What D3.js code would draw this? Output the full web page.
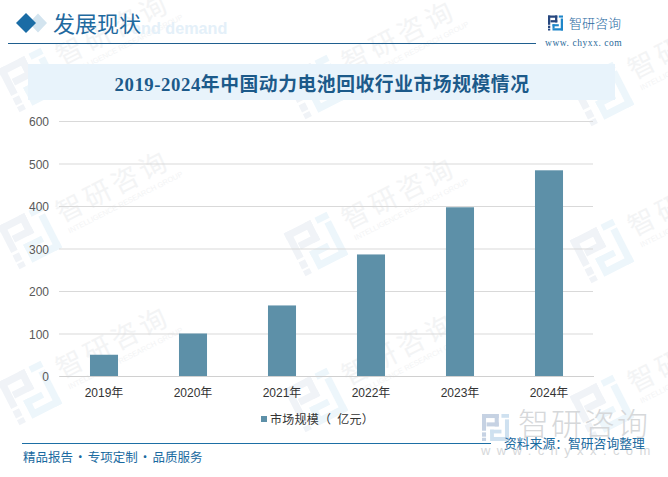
<!DOCTYPE html>
<html><head><meta charset="utf-8">
<script src="https://cdn.jsdelivr.net/npm/d3@7/dist/d3.min.js"></script>
<style>html,body{margin:0;padding:0;background:#fff}svg{display:block;text-spacing-trim:space-all}</style>
</head><body><svg id="c" width="668" height="477"></svg>
<script>
const categories = ["2019年","2020年","2021年","2022年","2023年","2024年"];
const marketSize = [50,100,166,286,397,484];
const yTicks = [0,100,200,300,400,500,600];
const seriesName = "市场规模（亿元）";
const chartTitle = "2019-2024年中国动力电池回收行业市场规模情况";
const sectionTitle = "发展现状";
const brand = "智研咨询";
const site = "www.chyxx.com";
const footerLeft = "精品报告 · 专项定制 · 品质服务";
const footerRight = "资料来源：智研咨询整理";

const sans = "'Noto Sans CJK SC','Noto Sans',sans-serif";
const arial = "'Liberation Sans','Noto Sans CJK SC',sans-serif";
const serif = "'Liberation Serif','Noto Sans CJK SC',serif";
const svg = d3.select("#c");

// logo pieces on a 100x100 grid
const logoDark = [[0,0,62,15],[47,0,15,46],[17,31,45,15],[0,0,15,62],[0,68,15,16],[0,88,15,12]];
const logoLight = [[72,0,28,14],[85,20,15,80],[30,85,70,15],[30,58,42,14],[30,58,14,28]];
function logo(g,size,cd,cl){
  const k=size/100;
  g.selectAll("rect.d").data(logoDark).join("rect").attr("class","d")
    .attr("x",d=>d[0]*k).attr("y",d=>d[1]*k).attr("width",d=>d[2]*k).attr("height",d=>d[3]*k).attr("fill",cd);
  g.selectAll("rect.l").data(logoLight).join("rect").attr("class","l")
    .attr("x",d=>d[0]*k).attr("y",d=>d[1]*k).attr("width",d=>d[2]*k).attr("height",d=>d[3]*k).attr("fill",cl);
}

// background watermarks
const wmCols=[30,316,602], wmRows=[80,237,393];
const wm=svg.append("g");
wmCols.forEach((cx,ci)=>wmRows.forEach(ry=>{
  const cy=ry+ci*7;
  const g=wm.append("g").attr("transform",`translate(${cx},${cy}) rotate(-27)`);
  logo(g.append("g").attr("transform","translate(-24,-24)"),48,"#f0f3f7","#edf6fb");
  g.append("text").attr("x",35).attr("y",2).attr("font-family",sans).attr("font-size",27)
    .attr("letter-spacing",4).attr("fill","#f3f4f5").text(brand);
  g.append("text").attr("x",37).attr("y",15).attr("font-family",arial).attr("font-size",7.5)
    .attr("fill","#f3f4f5").text("INTELLIGENCE RESEARCH GROUP");
}));

// header
svg.append("text").attr("x",132).attr("y",34).attr("font-family",arial).attr("font-weight","bold")
  .attr("font-size",16.2).attr("fill","#e4f0f9").text("and demand");
svg.append("path").attr("d","M38 13.5L47 23L38 32.5L29 23Z").attr("fill","#d3e4ef");
svg.append("path").attr("d","M26 13L36 23L26 33L16 23Z").attr("fill","#1a6ca5");
svg.append("text").attr("x",53).attr("y",32).attr("font-family",sans).attr("font-size",22)
  .attr("fill","#1f6a9f").text(sectionTitle);
svg.append("line").attr("x1",8).attr("x2",536).attr("y1",43.5).attr("y2",43.5).attr("stroke","#1f5f8f").attr("stroke-width",1);
logo(svg.append("g").attr("transform","translate(548,15.5)"),15,"#27477f","#1f86c9");
svg.append("text").attr("x",569).attr("y",28).attr("font-family",sans).attr("font-size",13)
  .attr("fill","#1f6a9f").attr("font-weight",300).text(brand);
svg.append("text").attr("x",545).attr("y",46).attr("font-family",serif).attr("font-size",9.5)
  .attr("letter-spacing",.55).attr("fill","#2a6a9a").text("www. chyxx. com");

// title
svg.append("rect").attr("x",28).attr("y",64).attr("width",587).attr("height",36).attr("fill","#e8f3fb");
svg.append("text").attr("x",322).attr("y",91).attr("text-anchor","middle").attr("font-family",serif)
  .attr("font-weight","bold").attr("font-size",18.8).attr("letter-spacing",.55).attr("fill","#1c5a8a").text(chartTitle);

// chart
const x=d3.scaleBand().domain(categories).range([59.5,593.5]).paddingInner(.685).paddingOuter(.3425);
const y=d3.scaleLinear().domain([0,600]).range([376,121]);

const yAxis=svg.append("g").attr("transform","translate(59,0)")
  .call(d3.axisLeft(y).tickValues(yTicks).tickSize(-534).tickPadding(10));
yAxis.select(".domain").remove();
yAxis.selectAll("line").attr("stroke","#d9d9d9").attr("stroke-width",1);
yAxis.selectAll("text").attr("font-family",arial).attr("font-size",12).attr("fill","#595959").attr("y",1);

svg.append("g").selectAll("rect").data(marketSize).join("rect")
  .attr("x",(d,i)=>x(categories[i])).attr("width",x.bandwidth())
  .attr("y",d=>y(d)).attr("height",d=>y(0)-y(d)).attr("fill","#5d90a8");

const xAxis=svg.append("g").attr("transform","translate(0,376)")
  .call(d3.axisBottom(x).tickSize(0).tickPadding(12));
xAxis.select(".domain").attr("stroke","#d0d0d0");
xAxis.selectAll("text").attr("font-family",arial).attr("font-size",12).attr("fill","#333");

// legend
svg.append("rect").attr("x",261).attr("y",416).attr("width",6).attr("height",6).attr("fill","#5d90a8");
svg.append("text").attr("x",270).attr("y",424).attr("dx","0 0 0 0 0 6 0 0").attr("font-family",sans).attr("font-size",12)
  .attr("letter-spacing",.25).attr("fill","#333").text(seriesName);

// footer
logo(svg.append("g").attr("transform","translate(482,414)"),27,"#c6d2e3","#cfe1f0");
svg.append("text").attr("x",518).attr("y",435).attr("font-family",sans).attr("font-size",31)
  .attr("letter-spacing",2).attr("font-weight",300).attr("fill","#d6d8da").text(brand);
svg.append("text").attr("x",481).attr("y",455).attr("font-family",arial).attr("font-size",13)
  .attr("letter-spacing",6.4).attr("fill","#d6d8da").text(site);
svg.append("line").attr("x1",22).attr("x2",491).attr("y1",443.5).attr("y2",443.5).attr("stroke","#1d6fa5").attr("stroke-width",1);
svg.append("text").attr("x",23).attr("y",462).attr("font-family",sans).attr("font-size",12.5)
  .attr("word-spacing",-1.7).attr("fill","#1a6aa0").text(footerLeft);
svg.append("text").attr("x",504).attr("y",448).attr("font-family",sans).attr("font-size",12.8)
  .attr("fill","#1a6aa0").text(footerRight);
</script></body></html>
